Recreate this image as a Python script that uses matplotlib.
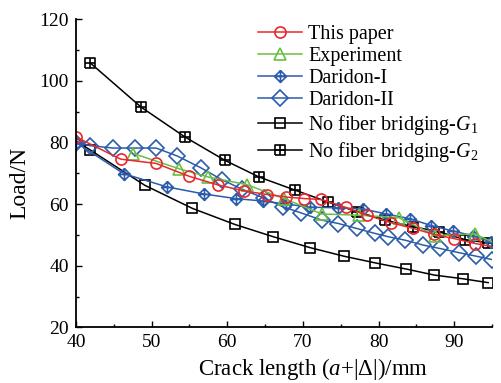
import matplotlib
matplotlib.use("Agg")
import matplotlib.pyplot as plt
from matplotlib.path import Path

plt.rcParams["font.family"] = ["Liberation Serif", "DejaVu Serif"]
plt.rcParams["mathtext.fontset"] = "custom"
plt.rcParams["mathtext.rm"] = "Liberation Serif"
plt.rcParams["mathtext.it"] = "Liberation Serif:italic"
plt.rcParams["mathtext.bf"] = "Liberation Serif:bold"

# data
this_x = [40.0, 45.9, 50.6, 55.0, 58.8, 62.2, 65.3, 67.8, 70.2, 72.4, 75.7, 78.5, 81.6, 84.6, 87.3, 90.0, 92.8, 95.0]
this_y = [81.8, 74.6, 73.2, 69.0, 66.2, 64.3, 63.1, 62.3, 61.8, 61.5, 58.9, 56.4, 54.0, 52.1, 50.2, 48.8, 47.2, 46.2]

exp_x = [47.6, 53.6, 57.5, 62.6, 67.5, 72.5, 77.4, 82.7, 87.5, 92.7, 95.0]
exp_y = [76.4, 71.5, 68.8, 66.3, 61.8, 56.8, 56.4, 55.6, 49.8, 50.3, 47.8]

dar1_x = [40.0, 46.3, 52.0, 56.9, 61.1, 64.7, 67.8, 71.0, 74.7, 78.0, 81.0, 84.1, 87.0, 89.8, 92.5, 94.9]
dar1_y = [80.0, 69.9, 65.6, 63.3, 61.8, 61.0, 60.0, 59.0, 58.8, 58.4, 56.8, 55.3, 53.0, 51.3, 49.7, 47.7]

dar2_x = [40.0, 41.8, 44.9, 47.8, 50.6, 53.4, 56.5, 59.3, 62.0, 64.8, 67.4, 69.8, 72.5, 74.7, 77.1, 79.5,
          81.3, 83.5, 85.9, 88.1, 90.7, 92.9, 95.0]
dar2_y = [80.0, 79.0, 78.2, 78.2, 78.2, 75.6, 71.8, 67.9, 64.8, 62.0, 59.1, 57.1, 54.8, 53.7, 52.1, 50.5,
          49.4, 48.3, 46.7, 45.6, 44.2, 43.1, 42.0]

g1_x = [40.0, 41.8, 49.1, 55.4, 61.0, 66.1, 70.9, 75.4, 79.6, 83.7, 87.4, 91.2, 94.5]
g1_y = [80.5, 77.7, 66.1, 58.6, 53.4, 49.4, 45.9, 43.1, 40.9, 38.9, 36.95, 35.75, 34.5]

g2_x = [41.9, 48.6, 54.4, 59.7, 64.2, 69.0, 73.3, 77.2, 80.9, 84.5, 88.0, 91.4, 94.5]
g2_y = [105.8, 91.5, 81.8, 74.2, 68.8, 64.5, 60.7, 57.5, 54.8, 52.7, 51.0, 48.5, 47.4]

labels = ["This paper", "Experiment", "Daridon-I", "Daridon-II",
          "No fiber bridging-$G_1$", "No fiber bridging-$G_2$"]

red = "#e8282c"
green = "#6cbd45"
blue = "#2b5cab"

# open markers with a cross inside
M, L = Path.MOVETO, Path.LINETO
crossed_diamond = Path([(0, 1), (1, 0), (0, -1), (-1, 0), (0, 1), (0, 1), (0, -1), (-1, 0), (1, 0)],
                       [M, L, L, L, L, M, L, M, L])
crossed_square = Path([(-1, -1), (1, -1), (1, 1), (-1, 1), (-1, -1), (0, -1), (0, 1), (-1, 0), (1, 0)],
                      [M, L, L, L, L, M, L, M, L])

fig = plt.figure(figsize=(5.02, 3.83), dpi=100)
ax = fig.add_axes([0.1514, 0.1454, 0.8286, 0.8042])

lw = 1.1
h5, = ax.plot(g1_x, g1_y, color="black", lw=lw, marker="s", ms=7, mfc="none", mew=1.2,
              markevery=list(range(1, len(g1_x))), label=labels[4])
h6, = ax.plot(g2_x, g2_y, color="black", lw=lw, marker=crossed_square, ms=7, mfc="none", mew=1.2,
              label=labels[5])
h4, = ax.plot(dar2_x, dar2_y, color=blue, lw=lw, marker="D", ms=8, mfc="none", mew=1.2, label=labels[3])
h3, = ax.plot(dar1_x, dar1_y, color=blue, lw=lw, marker=crossed_diamond, ms=8.5, mfc="none", mew=1.2,
              label=labels[2])
h2, = ax.plot(exp_x, exp_y, color=green, lw=lw, marker="^", ms=8, mfc="none", mew=1.2,
              markevery=list(range(len(exp_x) - 1)), label=labels[1])
h1, = ax.plot(this_x, this_y, color=red, lw=lw, marker="o", ms=8, mfc="none", mew=1.2,
              markevery=list(range(len(this_x) - 1)), label=labels[0])

ax.set_xlim(40, 95)
ax.set_ylim(20, 120)
ax.set_xticks([40, 50, 60, 70, 80, 90])
ax.set_xticks([45, 55, 65, 75, 85, 95], minor=True)
ax.set_yticks([20, 40, 60, 80, 100, 120])
ax.set_yticks([30, 50, 70, 90, 110], minor=True)
ax.tick_params(which="both", direction="in", width=1.0, labelsize=14)
ax.tick_params(which="major", length=4, pad=5)
ax.tick_params(which="minor", length=2.5)

ax.spines["top"].set_visible(False)
ax.spines["right"].set_visible(False)
ax.spines["left"].set_linewidth(1.3)
ax.spines["bottom"].set_linewidth(1.3)

ax.set_xlabel(r"Crack length ($a$+|$\mathit{\Delta}$|)/mm", fontsize=16.5)
ax.xaxis.set_label_coords(0.57, -0.135)
ax.xaxis.label.set_va("center")
ax.set_ylabel("Load/N", fontsize=17)
ax.yaxis.set_label_coords(-0.135, 0.468)
ax.yaxis.label.set_va("center")

leg = ax.legend(handles=[h1, h2, h3, h4, h5, h6], loc="upper left",
                bbox_to_anchor=(258 / 502, 1 - 25 / 383), bbox_transform=fig.transFigure,
                frameon=False, fontsize=14.5, numpoints=1, handlelength=2.2, handletextpad=0.3,
                labelspacing=0.15, borderpad=0, borderaxespad=0)

fig.savefig("out.png", dpi=100)
